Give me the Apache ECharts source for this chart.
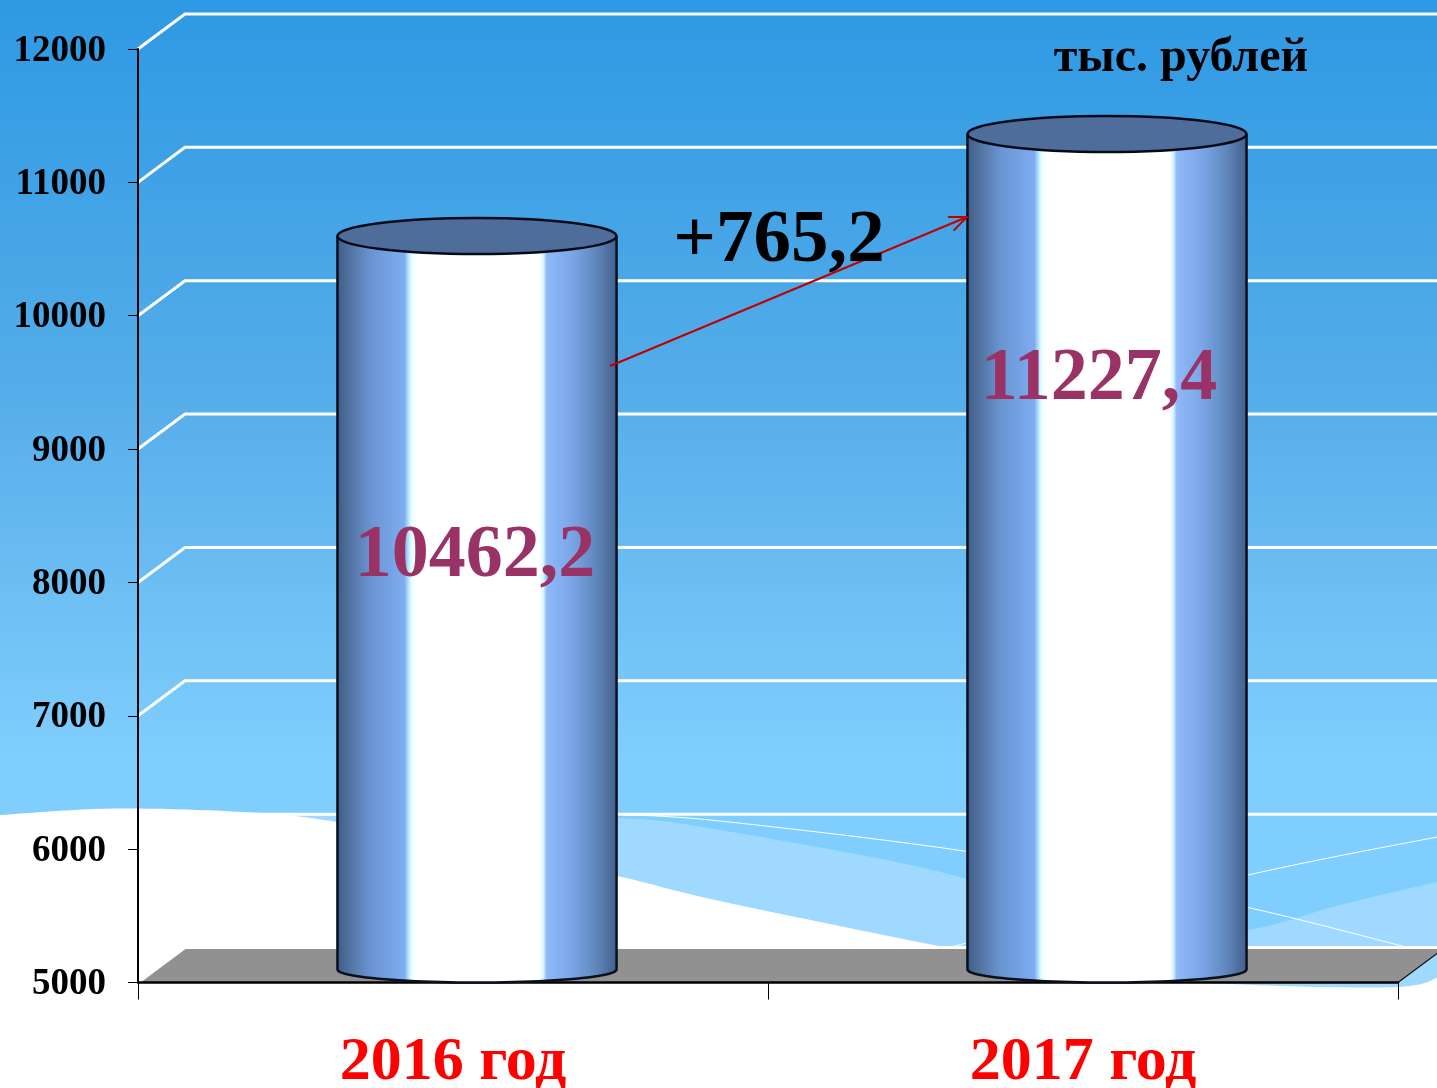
<!DOCTYPE html>
<html><head><meta charset="utf-8">
<style>html,body{margin:0;padding:0;background:#fff}#c{width:1437px;height:1088px}</style>
<script src="https://cdn.jsdelivr.net/npm/echarts@6/dist/echarts.min.js"></script>
</head><body><div id="c"></div>
<script>
const categories = ['2016 год', '2017 год'];
const values = [10462.2, 11227.4];
const valueLabels = ['10462,2', '11227,4'];
const labelHeights = [8195, 9520];
const yTicks = [5000, 6000, 7000, 8000, 9000, 10000, 11000, 12000];
const arrowValues = [9623, 10740];
const delta = '+765,2';
const unit = 'тыс. рублей';

const SERIF = '"Liberation Serif","Times New Roman",serif';
const DX = 47, DY = 35, BAND = 0.443, RY = 18, RY_BOTTOM = 13;
const chart = echarts.init(document.getElementById('c'));

function spline(p) {
  const out = [];
  for (let i = 0; i < p.length - 1; i++) {
    const a = p[Math.max(i - 1, 0)], b = p[i], c = p[i + 1], d = p[Math.min(i + 2, p.length - 1)];
    for (let k = 0; k < 12; k++) {
      const t = k / 12, t2 = t * t, t3 = t2 * t;
      out.push([0, 1].map(j => 0.5 * (2 * b[j] + (c[j] - a[j]) * t + (2 * a[j] - 5 * b[j] + 4 * c[j] - d[j]) * t2 + (3 * b[j] - a[j] - 3 * c[j] + d[j]) * t3)));
    }
  }
  out.push(p[p.length - 1]);
  return out;
}
const bandShape = spline([[280,815],[450,814],[617,818],[720,830],[967,879],[1110,945],[1248,930],[1340,905],[1437,882]]).concat([[1437,1010],[280,1010]]);
const whiteShape = spline([[0,815],[115,808.5],[252,812.5],[337,822],[480,848],[617,876],[720,901],[944,947],[1100,975],[1255,985],[1397,987],[1437,978]]).concat([[1437,1088],[0,1088]]);
const thin1 = spline([[617,814.5],[720,821],[967,851.5],[1100,880],[1248,907.5],[1406,947]]);
const thin2 = spline([[951,947],[967,943],[1248,875],[1437,837]]);

function bodyGradient() {
  return new echarts.graphic.LinearGradient(0, 0, 1, 0, [
    {offset:0,color:'#3f5c88'},{offset:0.04,color:'#50719f'},{offset:0.12,color:'#6a95d2'},
    {offset:0.24,color:'#7eabf2'},{offset:0.252,color:'#a8dcfb'},{offset:0.265,color:'#e8ffff'},{offset:0.285,color:'#ffffff'},
    {offset:0.725,color:'#ffffff'},{offset:0.738,color:'#d4f4ff'},{offset:0.75,color:'#8fb9f8'},
    {offset:0.84,color:'#7aa6e8'},{offset:0.93,color:'#5f85ba'},{offset:1,color:'#42608c'}
  ]);
}

chart.setOption({
  animation: false,
  graphic: { elements: [
    {type:'rect', z:-30, silent:true, shape:{x:0,y:0,width:1437,height:1088},
     style:{fill:new echarts.graphic.LinearGradient(0,0,0,1,[
       {offset:0,color:'#2e99e3'},{offset:0.36,color:'#55ade9'},{offset:0.70,color:'#80cefd'},{offset:1,color:'#80cefd'}])}},
    {type:'polygon', z:-29, silent:true, shape:{points:bandShape}, style:{fill:'#9fd9ff'}},
    {type:'polygon', z:-28, silent:true, shape:{points:whiteShape}, style:{fill:'#ffffff'}},
    {type:'polyline', z:-27, silent:true, shape:{points:thin1}, style:{stroke:'#ffffff',lineWidth:1,fill:'none'}},
    {type:'polyline', z:-27, silent:true, shape:{points:thin2}, style:{stroke:'#ffffff',lineWidth:1,fill:'none'}},
    {type:'text', z:30, silent:true, style:{x:779,y:242,text:delta,align:'center',verticalAlign:'middle',font:'bold 75px '+SERIF,fill:'#000'}},
    {type:'text', z:30, silent:true, style:{x:1181,y:59,text:unit,align:'center',verticalAlign:'middle',font:'bold 48px '+SERIF,fill:'#000'}}
  ]},
  grid: {left:138, right:39, top:49, bottom:105.5, outerBoundsMode:'none', containLabel:false},
  xAxis: {type:'category', data:categories, z:5,
    axisLine:{lineStyle:{color:'#000',width:2.5}},
    axisTick:{show:true,alignWithLabel:false,length:17,lineStyle:{color:'#000',width:1}},
    axisLabel:{color:'#f00',fontFamily:SERIF,fontWeight:'bold',fontSize:62,margin:49},
    splitLine:{show:false}},
  yAxis: {type:'value', min:5000, max:12000, interval:1000, z:5,
    axisLine:{show:true,lineStyle:{color:'#000',width:2}},
    axisTick:{show:true,length:10,lineStyle:{color:'#000',width:1}},
    axisLabel:{color:'#000',fontFamily:SERIF,fontWeight:'bold',fontSize:37,margin:32,verticalAlign:'top',lineHeight:4,formatter:v=>String(v)},
    splitLine:{show:false}},
  series: [
    {type:'custom', z:1, silent:true, data:[yTicks[0]], encode:{y:0},
     renderItem(params, api){
       const c = params.coordSys, y = api.coord([0, api.value(0)])[1];
       return {type:'group', children:[
         {type:'polygon', shape:{points:[[c.x,y],[c.x+DX,y-DY],[c.x+c.width+DX,y-DY],[c.x+c.width,y]]}, style:{fill:'#919191'}},
         {type:'line', shape:{x1:c.x+c.width,y1:y,x2:c.x+c.width+DX,y2:y-DY}, style:{stroke:'#111',lineWidth:1.2}}
       ]};
     }},
    {type:'custom', z:2, silent:true, data:yTicks, encode:{y:0},
     renderItem(params, api){
       const c = params.coordSys, y = api.coord([0, api.value(0)])[1];
       return {type:'polyline', shape:{points:[[c.x,y],[c.x+DX,y-DY],[c.x+c.width+DX,y-DY]]},
         style:{fill:'none',stroke:'#ffffff',lineWidth:3}};
     }},
    {type:'custom', z:6, silent:true, data:values.map((v,i)=>[i,v]), encode:{x:0,y:1},
     renderItem(params, api){
       const i = api.value(0), p = api.coord([i, api.value(1)]), base = api.coord([i, yTicks[0]]);
       const bw = api.size([1,0])[0], rx = bw*BAND/2, cx = p[0]+DX/2+0.5;
       const topY = p[1]-RY, botY = base[1]-RY_BOTTOM;
       const arc = [];
       for (let k=0;k<=48;k++){const a=Math.PI*k/48;arc.push([cx+rx*Math.cos(a),botY+RY_BOTTOM*Math.sin(a)]);}
       const body = [[cx+rx,topY]].concat(arc).concat([[cx-rx,topY]]);
       const lab = api.coord([i, labelHeights[i]]);
       const offs = [-2,-8];
       return {type:'group', children:[
         {type:'polygon', shape:{points:body}, style:{fill:bodyGradient()}},
         {type:'polyline', shape:{points:body}, style:{fill:'none',stroke:'#0a0f1e',lineWidth:2.5}},
         {type:'ellipse', shape:{cx:cx,cy:topY,rx:rx,ry:RY}, style:{fill:'#4f6d9b',stroke:'#050a18',lineWidth:2.5}},
         {type:'text', style:{x:cx+offs[i],y:lab[1],text:valueLabels[i],align:'center',verticalAlign:'middle',font:'bold 74px '+SERIF,fill:'#993366'}}
       ]};
     }},
    {type:'custom', z:8, silent:true, data:[[0,arrowValues[0]]], encode:{x:0,y:1},
     renderItem(params, api){
       const bw = api.size([1,0])[0], rx = bw*BAND/2;
       const a = api.coord([0, arrowValues[0]]), b = api.coord([1, arrowValues[1]]);
       const s = [a[0]+DX/2+rx-6, a[1]], e = [b[0]+DX/2-rx, b[1]];
       const ang = Math.atan2(e[1]-s[1], e[0]-s[0]), L = 19, W = 0.4;
       const h1 = [e[0]-L*Math.cos(ang-W), e[1]-L*Math.sin(ang-W)];
       const h2 = [e[0]-L*Math.cos(ang+W), e[1]-L*Math.sin(ang+W)];
       return {type:'group', children:[
         {type:'line', shape:{x1:s[0],y1:s[1],x2:e[0],y2:e[1]}, style:{stroke:'#c00000',lineWidth:2}},
         {type:'polyline', shape:{points:[h1,e,h2]}, style:{fill:'none',stroke:'#c00000',lineWidth:2}}
       ]};
     }}
  ]
});
</script></body></html>
